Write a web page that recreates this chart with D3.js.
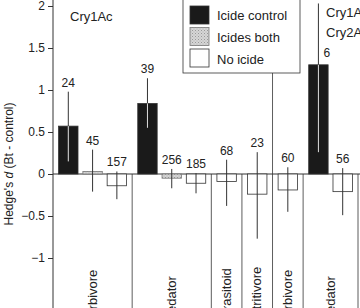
<!DOCTYPE html>
<html>
<head>
<meta charset="utf-8">
<script src="https://cdn.jsdelivr.net/npm/d3@7"></script>
<style>
  body { margin: 0; background: #fff; }
  svg { display: block; font-family: "Liberation Sans", Arial, sans-serif; }
</style>
</head>
<body>
<svg id="chart" width="360" height="308"></svg>
<script>
// groups: category name, toxin panel, and which treatments appear
const groups = ["Herbivore", "Predator", "Parasitoid", "Detritivore", "Herbivore", "Predator"];
const panels = ["Cry1Ac", "Cry1Ac", "Cry1Ac", "Cry1Ac", "Cry1Ac/Cry2Ab", "Cry1Ac/Cry2Ab"];
const treatments = ["Icide control", "Icides both", "No icide"];

// one entry per bar, in drawing order
const barGroup = [0, 0, 0, 1, 1, 1, 2, 3, 4, 5, 5];
const barTreat = [0, 1, 2, 0, 1, 2, 2, 2, 2, 0, 2];
const barValue = [0.57, 0.03, -0.14, 0.84, -0.05, -0.11, -0.09, -0.24, -0.19, 1.30, -0.21];
const barLow   = [0.15, -0.21, -0.30, 0.55, -0.17, -0.23, -0.38, -0.77, -0.45, 0.26, -0.49];
const barHigh  = [0.98, 0.29, 0.03, 1.14, 0.06, 0.01, 0.17, 0.26, 0.08, 2.03, 0.07];
const barN     = [24, 45, 157, 39, 256, 185, 68, 23, 60, 6, 56];

const yTicks = [-1, -0.5, 0, 0.5, 1, 1.5, 2];

const svg = d3.select("#chart");
const ink = "#333";

// pattern for the "both" treatment
const defs = svg.append("defs");
const pat = defs.append("pattern")
  .attr("id", "dots").attr("width", 3).attr("height", 3)
  .attr("patternUnits", "userSpaceOnUse");
pat.append("rect").attr("width", 3).attr("height", 3).attr("fill", "#d6d6d6");
pat.append("rect").attr("width", 1).attr("height", 1).attr("fill", "#999");
pat.append("rect").attr("x", 1.5).attr("y", 1.5).attr("width", 1).attr("height", 1).attr("fill", "#b0b0b0");
const fills = ["#1a1a1a", "url(#dots)", "#fff"];

// x layout: each bar is one unit, each group gets a small gap
const gap = 0.26;
let groupStart = [], unit = 0;
groups.forEach((g, i) => {
  groupStart.push(unit);
  unit += barGroup.filter((d) => d == i).length + gap;
});
const total = unit;
const x = d3.scaleLinear().domain([0, total]).range([53, 358]);
const y = d3.scaleLinear().domain([-1.6, 2]).range([308.4, 6]);

const bars = barValue.map((v, i) => {
  let g = barGroup[i];
  let k = barGroup.slice(0, i).filter((d) => d == g).length;
  let u = groupStart[g] + gap / 2 + k;
  return { v: v, lo: barLow[i], hi: barHigh[i], n: barN[i], t: barTreat[i], x0: x(u + 0.1), x1: x(u + 0.9), cx: x(u + 0.5) };
});

// zero line
svg.append("line")
  .attr("x1", x(0)).attr("x2", 360)
  .attr("y1", y(0)).attr("y2", y(0))
  .attr("stroke", ink);

// group separators
groups.forEach((g, i) => {
  let sx = x(groupStart[i] + barGroup.filter((d) => d == i).length + gap);
  let top = panels[i] != panels[i + 1] && i < groups.length - 1 ? 0 : y(0);
  svg.append("line")
    .attr("x1", sx).attr("x2", sx)
    .attr("y1", top).attr("y2", 308)
    .attr("stroke", ink).attr("stroke-width", 0.8);
});

// bars
svg.selectAll("rect.bar").data(bars).enter().append("rect")
  .attr("class", "bar")
  .attr("x", (d) => d.x0)
  .attr("width", (d) => d.x1 - d.x0)
  .attr("y", (d) => y(Math.max(0, d.v)))
  .attr("height", (d) => Math.abs(y(d.v) - y(0)))
  .attr("fill", (d) => fills[d.t])
  .attr("stroke", (d) => (d.t == 1 ? "#777" : ink))
  .attr("stroke-width", 0.8);

// error bars, white where they run inside a dark bar
svg.selectAll("line.err").data(bars).enter().append("line")
  .attr("class", "err")
  .attr("x1", (d) => d.cx).attr("x2", (d) => d.cx)
  .attr("y1", (d) => y(d.hi)).attr("y2", (d) => y(d.lo))
  .attr("stroke", ink).attr("stroke-width", 1);

svg.selectAll("line.errIn").data(bars.filter((d) => d.t == 0)).enter().append("line")
  .attr("class", "errIn")
  .attr("x1", (d) => d.cx).attr("x2", (d) => d.cx)
  .attr("y1", (d) => y(Math.min(d.hi, d.v)))
  .attr("y2", (d) => y(Math.max(d.lo, 0)))
  .attr("stroke", "#ddd").attr("stroke-width", 1);

// sample sizes
svg.selectAll("text.n").data(bars).enter().append("text")
  .attr("class", "n")
  .attr("font-size", 12).attr("fill", "#222")
  .each(function (d) {
    let ty = y(Math.max(d.hi, d.v)) - 5;
    let t = d3.select(this).text(d.n);
    if (ty < 25) {
      t.attr("x", d.cx + 5).attr("y", y(d.v) - 8).attr("text-anchor", "start");
    } else {
      t.attr("x", d.cx).attr("y", ty).attr("text-anchor", "middle");
    }
  });

// y axis
const axis = svg.append("g").attr("transform", "translate(" + x(0) + ",0)")
  .call(d3.axisLeft(y).tickValues(yTicks).tickSize(5).tickPadding(3)
    .tickFormat((d) => (d < 0 ? "\u2212" + Math.abs(d) : d)));
axis.select(".domain").attr("d", "M0,0V308").attr("stroke", ink);
axis.selectAll(".tick line").attr("stroke", ink);
axis.selectAll(".tick text").attr("font-size", 12).attr("fill", "#222")
  .attr("font-family", "Liberation Sans, Arial, sans-serif");

const title = svg.append("text")
  .attr("transform", "translate(13,164) rotate(-90)")
  .attr("text-anchor", "middle").attr("font-size", 12).attr("fill", "#222");
title.append("tspan").text("Hedge's ");
title.append("tspan").attr("font-style", "italic").text("d");
title.append("tspan").text(" (Bt - control)");

// category labels, rotated, running off the bottom
groups.forEach((g, i) => {
  let n = barGroup.filter((d) => d == i).length;
  let cx = x(groupStart[i] + (n + gap) / 2);
  svg.append("text")
    .attr("transform", "translate(" + (cx + 4) + ",326) rotate(-90)")
    .attr("font-size", 13).attr("fill", "#222")
    .text(g);
});

// panel labels
svg.append("text").attr("x", 70).attr("y", 20.5)
  .attr("font-size", 13).attr("fill", "#222").text(panels[0]);
panels[5].split("/").forEach((p, i) => {
  svg.append("text").attr("x", 326).attr("y", 16.5 + i * 20)
    .attr("font-size", 13).attr("fill", "#222").text(p);
});

// legend
const lg = svg.append("g");
lg.append("rect").attr("x", 183).attr("y", -2).attr("width", 117).attr("height", 75)
  .attr("fill", "#fff").attr("stroke", ink).attr("stroke-width", 0.8);
treatments.forEach((t, i) => {
  lg.append("rect").attr("x", 190).attr("y", 6 + i * 21.5).attr("width", 19).attr("height", 18)
    .attr("fill", fills[i]).attr("stroke", i == 1 ? "#777" : ink).attr("stroke-width", 0.8);
  lg.append("text").attr("x", 217).attr("y", 20 + i * 22)
    .attr("font-size", 13).attr("fill", "#222").text(t);
});
</script>
</body>
</html>
